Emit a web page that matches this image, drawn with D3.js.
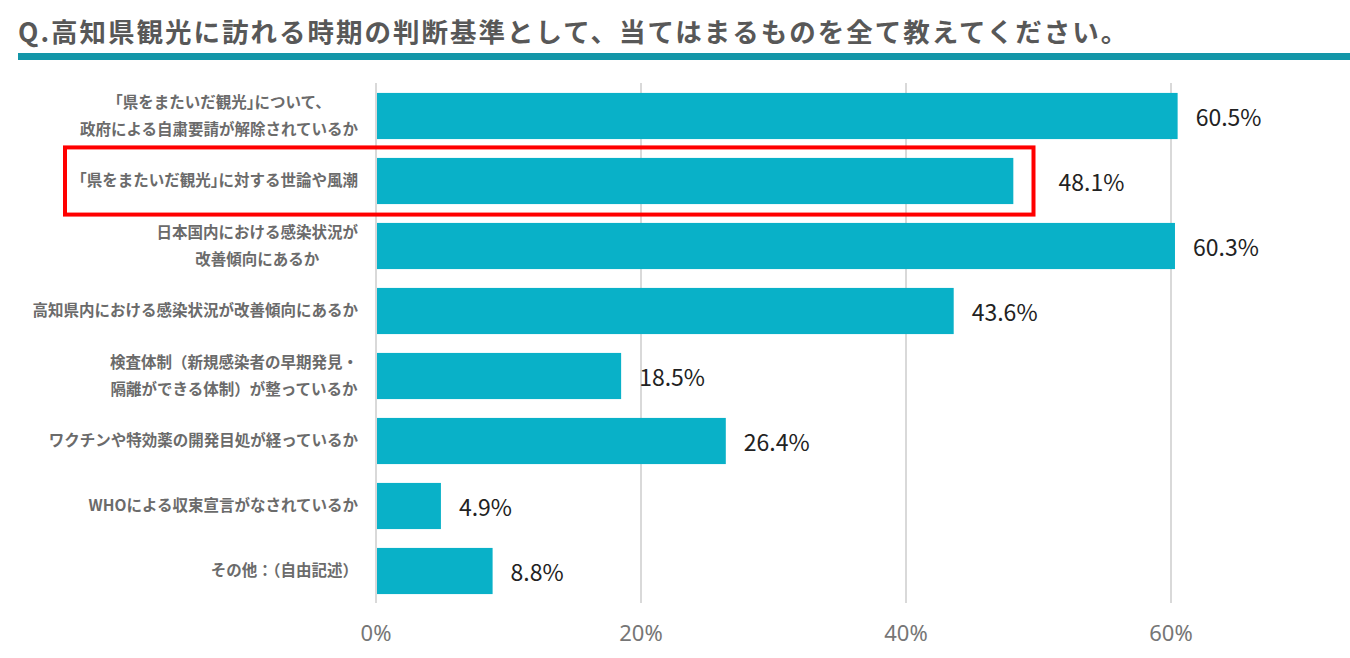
<!DOCTYPE html>
<html>
<head>
<meta charset="utf-8">
<script src="https://cdn.jsdelivr.net/npm/d3@7"></script>
<style>
  body { margin: 0; background: #fff; }
  svg { display: block; }
</style>
</head>
<body>
<div id="viz"></div>
<script>
// data
var titleText = "Q.高知県観光に訪れる時期の判断基準として、当てはまるものを全て教えてください。";
var categories = [
  "「県をまたいだ観光」について、\n政府による自粛要請が解除されているか",
  "「県をまたいだ観光」に対する世論や風潮",
  "日本国内における感染状況が\n改善傾向にあるか",
  "高知県内における感染状況が改善傾向にあるか",
  "検査体制（新規感染者の早期発見・\n隔離ができる体制）が整っているか",
  "ワクチンや特効薬の開発目処が経っているか",
  "WHOによる収束宣言がなされているか",
  "その他：（自由記述）"
];
var values = [60.5, 48.1, 60.3, 43.6, 18.5, 26.4, 4.9, 8.8];
var tickValues = [0, 20, 40, 60];
var highlighted = "「県をまたいだ観光」に対する世論や風潮";

var width = 1350, height = 658;
var barColor = "#09b1c8";

var svg = d3.select("#viz").append("svg")
  .attr("width", width)
  .attr("height", height);

// title + underline
svg.append("text")
  .attr("x", 18)
  .attr("y", 42)
  .style("font-family", "'Noto Sans CJK JP', 'Noto Sans', sans-serif")
  .style("font-weight", 700)
  .style("font-size", "26.5px")
  .style("letter-spacing", "2px")
  .attr("fill", "#585858")
  .text(titleText);

svg.append("rect")
  .attr("x", 18).attr("y", 53)
  .attr("width", width - 18).attr("height", 7)
  .attr("fill", "#1396a8");

var x = d3.scaleLinear().domain([0, 70]).range([376, 376 + 70 * 13.25]);
var y = d3.scaleBand().domain(categories).range([83.5, 603.5])
  .paddingInner(0.29).paddingOuter(0.145);

// grid
svg.append("g").selectAll("line")
  .data(tickValues)
  .enter().append("line")
  .attr("x1", d => x(d)).attr("x2", d => x(d))
  .attr("y1", 83).attr("y2", 603)
  .attr("stroke", "#d9d9d9")
  .attr("stroke-width", 2);

// axis labels
svg.append("g").selectAll("text")
  .data(tickValues)
  .enter().append("text")
  .attr("x", d => x(d))
  .attr("y", 641)
  .attr("text-anchor", "middle")
  .style("font-family", "'Noto Sans', sans-serif")
  .style("font-size", "22px")
  .attr("fill", "#767676")
  .text(d => d + "%");

var rows = categories.map((c, i) => ({ cat: c, value: values[i] }));

// red highlight box goes just past the 50% mark
var boxRight = x(50) - 5;

// bars
svg.append("g").selectAll("rect")
  .data(rows)
  .enter().append("rect")
  .attr("x", x(0) + 1)
  .attr("y", d => y(d.cat))
  .attr("width", d => x(d.value) - x(0) - 1)
  .attr("height", y.bandwidth())
  .attr("fill", barColor);

// value labels (the highlighted one sits outside the box)
svg.append("g").selectAll("text")
  .data(rows)
  .enter().append("text")
  .attr("x", d => d.cat === highlighted ? boxRight + 25 : x(d.value) + 18)
  .attr("y", d => y(d.cat) + y.bandwidth() / 2)
  .attr("dy", "0.42em")
  .style("font-family", "'Noto Sans CJK JP', 'Noto Sans', sans-serif")
  .style("font-size", "23px")
  .attr("fill", "#222")
  .text(d => d.value.toFixed(1) + "%");

// category labels, multi-line ones centred inside a right aligned block
var labelRight = 358;
var lineGap = 27;
var labels = svg.append("g")
  .style("font-family", "'Noto Sans CJK JP', 'Noto Sans', sans-serif")
  .style("font-weight", 700)
  .style("font-size", "15.5px")
  .attr("fill", "#6b6b6b");

rows.forEach(function(d) {
  var lines = d.cat.split("\n");
  var cy = y(d.cat) + y.bandwidth() / 2;
  var t = labels.append("text");
  lines.forEach(function(l, i) {
    t.append("tspan")
      .attr("y", cy + (i - (lines.length - 1) / 2) * lineGap)
      .attr("dy", "0.35em")
      .style("font-feature-settings", l.indexOf("「") >= 0 ? "'halt'" : null)
      .text(l);
  });
  if (lines.length === 1) {
    t.attr("text-anchor", "end").selectAll("tspan").attr("x", labelRight);
  } else {
    var w = d3.max(t.selectAll("tspan").nodes(), n => n.getComputedTextLength());
    t.attr("text-anchor", "middle").selectAll("tspan").attr("x", labelRight - w / 2);
  }
});

svg.append("rect")
  .attr("x", 65)
  .attr("y", y(highlighted) - 10.5)
  .attr("width", boxRight - 65)
  .attr("height", y.bandwidth() + 21)
  .attr("fill", "none")
  .attr("stroke", "#ff0000")
  .attr("stroke-width", 4);
</script>
</body>
</html>
